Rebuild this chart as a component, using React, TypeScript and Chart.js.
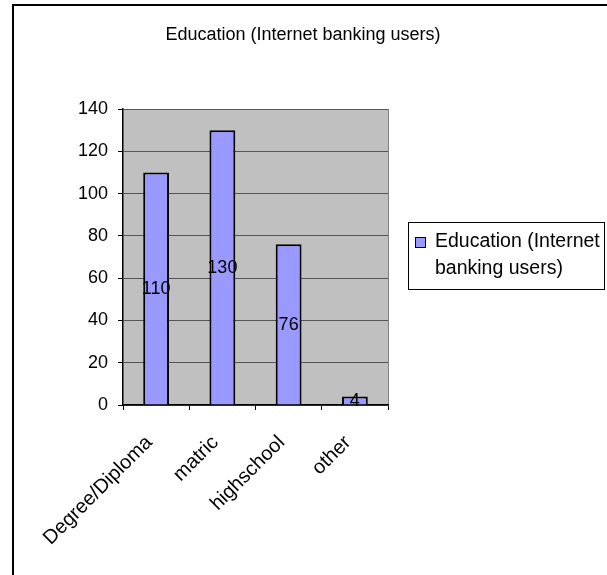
import React, { useEffect, useRef } from "react";
import { Chart, registerables } from "chart.js";

Chart.register(...registerables);

const categories = ["Degree/Diploma", "matric", "highschool", "other"];
const values = [110, 130, 76, 4];
const seriesName = "Education (Internet banking users)";
const legendLines = ["Education (Internet", "banking users)"];
const titleText = "Education (Internet banking users)";
const yMin = 0;
const yMax = 140;
const yStep = 20;

const FONT = "'Liberation Sans', Arial, sans-serif";
const BAR_COLOR = "#9999FF";

const decorPlugin = {
  id: "decor",
  beforeDraw(chart: any) {
    const { ctx, chartArea } = chart;
    ctx.save();
    ctx.fillStyle = "#ffffff";
    ctx.fillRect(0, 0, chart.width, chart.height);
    ctx.fillStyle = "#C0C0C0";
    ctx.fillRect(chartArea.left, chartArea.top, chartArea.right - chartArea.left, chartArea.bottom - chartArea.top);
    ctx.strokeStyle = "#808080";
    ctx.lineWidth = 1;
    ctx.beginPath();
    ctx.moveTo(chartArea.right + 0.5, chartArea.top);
    ctx.lineTo(chartArea.right + 0.5, chartArea.bottom);
    ctx.stroke();
    ctx.restore();
  },
  afterDraw(chart: any) {
    const { ctx } = chart;
    ctx.save();
    ctx.strokeStyle = "#000";
    ctx.lineWidth = 2;
    ctx.strokeRect(13, 5, 640, 640);
    ctx.fillStyle = "#000";
    ctx.font = `18px ${FONT}`;
    ctx.textAlign = "center";
    ctx.textBaseline = "middle";
    ctx.fillText(titleText, 303, 35);
    const meta = chart.getDatasetMeta(0);
    ctx.font = `18px ${FONT}`;
    meta.data.forEach((bar: any, i: number) => {
      const cy = (bar.y + bar.base) / 2;
      ctx.fillText(String(values[i]), bar.x, cy + 1);
    });
    ctx.fillStyle = "#fff";
    ctx.fillRect(408, 222, 196, 67);
    ctx.strokeStyle = "#000";
    ctx.lineWidth = 1;
    ctx.strokeRect(408.5, 222.5, 196, 67);
    ctx.fillStyle = BAR_COLOR;
    ctx.fillRect(415.5, 237.5, 10, 10);
    ctx.strokeRect(415.5, 237.5, 10, 10);
    ctx.fillStyle = "#000";
    ctx.font = `19.5px ${FONT}`;
    ctx.textAlign = "left";
    ctx.textBaseline = "middle";
    ctx.fillText(legendLines[0], 435, 242);
    ctx.fillText(legendLines[1], 435, 269);
    ctx.restore();
  },
};

export default function App() {
  const ref = useRef<HTMLCanvasElement>(null);
  useEffect(() => {
    document.body.style.margin = "0";
    const chart = new Chart(ref.current!, {
      type: "bar",
      data: {
        labels: categories,
        datasets: [
          {
            label: seriesName,
            data: values,
            backgroundColor: BAR_COLOR,
            borderColor: "#000",
            borderWidth: 2,
            barPercentage: 0.39,
            categoryPercentage: 1,
          },
        ],
      },
      options: {
        responsive: false,
        animation: false,
        events: [],
        layout: { padding: { left: 73, top: 109, right: 219, bottom: 0 } },
        plugins: {
          legend: { display: false },
          title: { display: false },
          tooltip: { enabled: false },
        },
        scales: {
          x: {
            offset: true,
            grid: {
              offset: true,
              drawOnChartArea: false,
              drawTicks: true,
              tickLength: 5,
              color: "#000",
            },
            border: { color: "#000", width: 1.5 },
            ticks: {
              color: "#000",
              font: { family: FONT, size: 20 },
              minRotation: 45,
              maxRotation: 45,
              padding: 21,
              labelOffset: -7,
            },
            afterFit: (scale: any) => {
              scale.height = 170;
            },
          },
          y: {
            min: yMin,
            max: yMax,
            ticks: {
              stepSize: yStep,
              color: "#000",
              font: { family: FONT, size: 18 },
              padding: 10,
            },
            grid: {
              color: "#555",
              tickColor: "#000",
              tickLength: 5,
            },
            border: { color: "#000", width: 1.5 },
            afterFit: (scale: any) => {
              scale.width = 50;
            },
          },
        },
      },
      plugins: [decorPlugin],
    });
    return () => chart.destroy();
  }, []);
  return <canvas ref={ref} width={607} height={575} style={{ display: "block" }} />;
}
